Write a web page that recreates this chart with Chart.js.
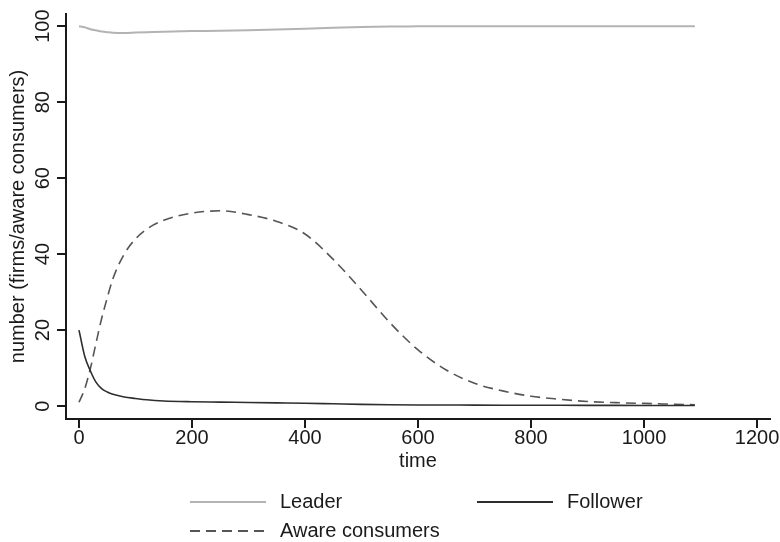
<!DOCTYPE html>
<html lang="en">
<head>
<meta charset="UTF-8">
<title>Leader, follower and aware consumers</title>
<script src="https://cdn.jsdelivr.net/npm/chart.js"></script>
<style>
  html, body { margin: 0; padding: 0; background: #fff; }
  canvas { display: block; }
</style>
</head>
<body>
<canvas id="grafico" width="780" height="542"></canvas>
<script>
// valores
var tempo    = [0, 10, 20, 30, 40, 50, 60, 80, 100, 120, 150, 200, 250, 300, 350, 400, 450, 500, 550, 600, 650, 700, 750, 800, 850, 900, 950, 1000, 1050, 1090];
var leader   = [100, 99.7, 99.2, 98.9, 98.6, 98.4, 98.25, 98.2, 98.3, 98.4, 98.55, 98.7, 98.8, 98.95, 99.15, 99.35, 99.55, 99.75, 99.9, 99.95, 100, 100, 100, 100, 100, 100, 100, 100, 100, 100];
var follower = [20, 13.2, 9.3, 6.3, 4.6, 3.7, 3.1, 2.4, 2.0, 1.65, 1.35, 1.15, 1.05, 0.95, 0.85, 0.75, 0.6, 0.45, 0.35, 0.3, 0.28, 0.25, 0.23, 0.21, 0.2, 0.19, 0.18, 0.17, 0.16, 0.15];
var aware    = [1.0, 4.5, 9.8, 16.5, 23, 28.5, 33.5, 40, 44, 46.6, 48.9, 50.8, 51.4, 50.4, 48.6, 45.3, 38.6, 30.5, 22, 14.8, 9.5, 6.0, 4.0, 2.6, 1.8, 1.2, 0.9, 0.7, 0.5, 0.35];

var nomes  = ['Leader', 'Follower', 'Aware consumers'];
var xTicks = [0, 200, 400, 600, 800, 1000, 1200];
var yTicks = [0, 20, 40, 60, 80, 100];
var tituloX = 'time';
var tituloY = 'number (firms/aware consumers)';

var fonte = '"Liberation Sans", Arial, sans-serif';
var corTexto = '#1a1a1a';

function pontos(valores) {
    return tempo.map(function(t, i) { return { x: t, y: valores[i] }; });
}

// rótulos do eixo Y girados, como no original
var eixoY = {
    id: 'eixoY',
    afterDraw: function(chart) {
        var ctx = chart.ctx;
        var sy = chart.scales.y;
        ctx.save();
        ctx.fillStyle = corTexto;
        ctx.font = '20px ' + fonte;
        ctx.textAlign = 'center';
        ctx.textBaseline = 'middle';
        sy.ticks.forEach(function(t) {
            var py = sy.getPixelForValue(t.value);
            ctx.save();
            ctx.translate(43, py);
            ctx.rotate(-Math.PI / 2);
            ctx.fillText(String(t.value), 0, 0);
            ctx.restore();
        });
        ctx.save();
        ctx.translate(18, (sy.top + sy.bottom) / 2);
        ctx.rotate(-Math.PI / 2);
        ctx.fillText(tituloY, 0, 0);
        ctx.restore();
        ctx.restore();
    }
};

// legenda em duas colunas
var legenda = {
    id: 'legenda',
    afterDraw: function(chart) {
        var ctx = chart.ctx;
        var lugares = [{ x: 190, y: 502 }, { x: 477, y: 502 }, { x: 190, y: 531 }];
        chart.data.datasets.forEach(function(ds, i) {
            var s = lugares[i];
            ctx.save();
            ctx.strokeStyle = ds.borderColor;
            ctx.lineWidth = 2;
            ctx.setLineDash(ds.borderDash || []);
            ctx.beginPath();
            ctx.moveTo(s.x, s.y);
            ctx.lineTo(s.x + 76, s.y);
            ctx.stroke();
            ctx.setLineDash([]);
            ctx.fillStyle = corTexto;
            ctx.font = '20px ' + fonte;
            ctx.textBaseline = 'middle';
            ctx.fillText(ds.label, s.x + 90, s.y);
            ctx.restore();
        });
    }
};

var ctx = document.getElementById('grafico').getContext('2d');

var grafico = new Chart(ctx, {
    type: 'line',
    data: {
        datasets: [{
            label: nomes[0],
            data: pontos(leader),
            borderColor: '#b3b3b3',
            borderWidth: 2,
            pointRadius: 0,
            cubicInterpolationMode: 'monotone',
            fill: false
        }, {
            label: nomes[1],
            data: pontos(follower),
            borderColor: '#2e2e2e',
            borderWidth: 1.6,
            pointRadius: 0,
            cubicInterpolationMode: 'monotone',
            fill: false
        }, {
            label: nomes[2],
            data: pontos(aware),
            borderColor: '#555555',
            borderWidth: 1.6,
            borderDash: [10, 6],
            pointRadius: 0,
            cubicInterpolationMode: 'monotone',
            fill: false
        }]
    },
    options: {
        responsive: false,
        animation: false,
        devicePixelRatio: 1,
        layout: { padding: { top: 14, right: 10, left: 0, bottom: 69 } },
        scales: {
            x: {
                type: 'linear',
                min: -23,
                max: 1223,
                afterBuildTicks: function(s) {
                    s.ticks = xTicks.map(function(v) { return { value: v }; });
                },
                afterFit: function(s) { s.height = 54; },
                grid: {
                    display: true,
                    drawOnChartArea: false,
                    drawTicks: true,
                    tickLength: 9,
                    color: corTexto,
                    lineWidth: 2
                },
                border: { display: true, color: corTexto, width: 2 },
                ticks: {
                    color: corTexto,
                    padding: -2,
                    maxRotation: 0,
                    font: { family: fonte, size: 20 },
                    callback: function(v) { return String(v); }
                },
                title: {
                    display: true,
                    text: tituloX,
                    color: corTexto,
                    padding: { top: 0, bottom: 0 },
                    font: { family: fonte, size: 20 }
                }
            },
            y: {
                type: 'linear',
                min: -3.4,
                max: 103.2,
                afterBuildTicks: function(s) {
                    s.ticks = yTicks.map(function(v) { return { value: v }; });
                },
                afterFit: function(s) { s.width = 66; },
                grid: {
                    display: true,
                    drawOnChartArea: false,
                    drawTicks: true,
                    tickLength: 9,
                    color: corTexto,
                    lineWidth: 2
                },
                border: { display: true, color: corTexto, width: 2 },
                ticks: { display: false },
                title: { display: false }
            }
        },
        plugins: {
            legend: { display: false },
            tooltip: { enabled: false }
        }
    },
    plugins: [eixoY, legenda]
});
</script>
</body>
</html>
